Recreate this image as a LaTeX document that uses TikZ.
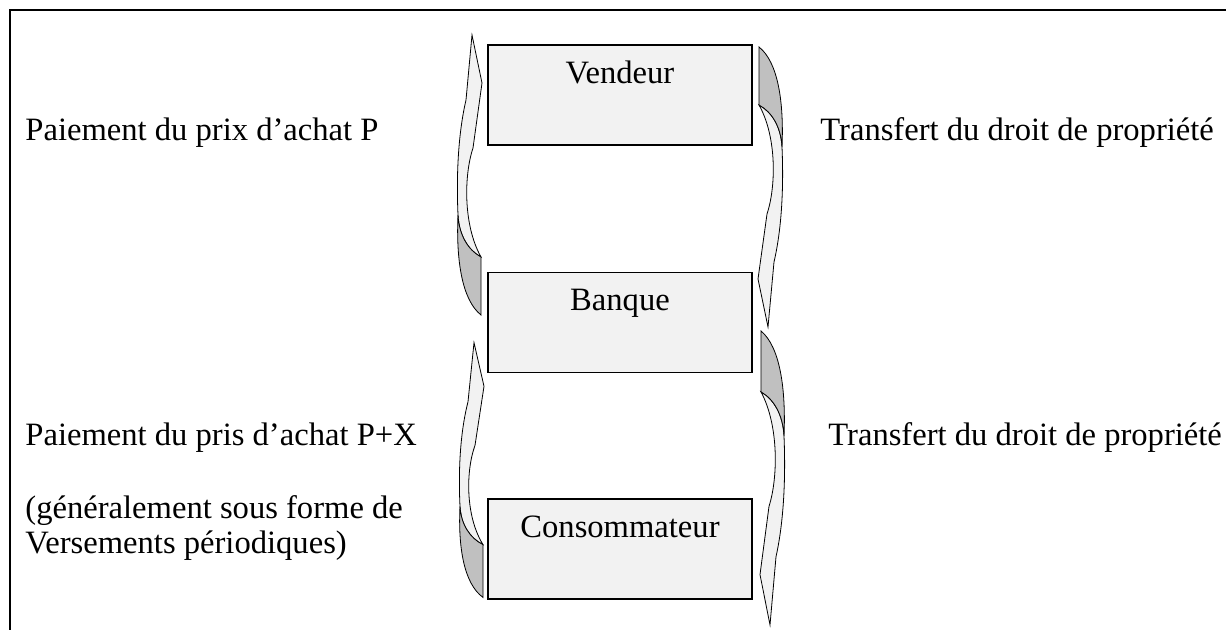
\documentclass[tikz,border=0pt]{standalone}
\usepackage{fontspec}
\setmainfont{Liberation Serif}
\usetikzlibrary{positioning, calc}
\definecolor{boxFill}    {HTML}{F2F2F2}
\definecolor{ribbonFront}{HTML}{F2F2F2}
\definecolor{ribbonBack} {HTML}{C0C0C0}
\tikzset{
  actor/.style={draw=black, line width=0.75pt, fill=boxFill,
    minimum width=132pt, minimum height=50pt, inner sep=0pt, align=center},
  flowtext/.style={anchor=base west, inner sep=0pt},
  ribbonface/.style={draw=black, line width=0.4pt, fill=ribbonFront},
  ribbonback/.style={draw=black, line width=0.4pt, fill=ribbonBack},
  twist arrow/.pic={
    % front face with head
    \path[ribbonface] (2,-140) -- (12,-92) -- (3,-27)
      .. controls (-6,0) and (-7,50) .. (11,82)
      .. controls (-2,75) and (-11,60) .. (-12,40)
      .. controls (-14,-5) and (-11,-45) .. (-4,-75) -- cycle;
    % back face at the tail
    \path[ribbonback] (11,82) -- (11,140)
      .. controls (-8,125) and (-14,85) .. (-12,40)
      .. controls (-11,60) and (-2,75) .. cycle;
  },
}
\begin{document}
\begin{tikzpicture}[x=0.5pt, y=-0.5pt, font=\fontsize{16.3}{17.5}\selectfont]
  \useasboundingbox (0,0) rectangle (1226,630);
  % frame
  \draw[line width=1pt] (10,630) -- (10,10) -- (1226,10);
  % actors
  \node[actor] (vendeur) at (620,95) {Vendeur\\\strut};
  \node[actor, below=63pt of vendeur] (banque) {Banque\\\strut};
  \node[actor, below=62.5pt of banque] (conso) {Consommateur\\\strut};
  % flows
  \pic at (470,175) {twist arrow};
  \pic[rotate=180] at (770,187) {twist arrow};
  \pic[yscale=0.91] at (472,470) {twist arrow};
  \pic[rotate=180, yscale=1.05] at (772,478) {twist arrow};
  % labels
  \node[flowtext] (payA) at (25,141) {Paiement du prix d’achat P};
  \node[flowtext] (transA) at (820,141) {Transfert du droit de propriété};
  \node[flowtext] (payB) at (25,445) {Paiement du pris d’achat P+X};
  \node[flowtext] (transB) at (828,445) {Transfert du droit de propriété};
  \node[flowtext] (noteA) at (25,518) {(généralement sous forme de};
  \node[flowtext] (noteB) at (25,553) {Versements périodiques)};
\end{tikzpicture}
\end{document}
